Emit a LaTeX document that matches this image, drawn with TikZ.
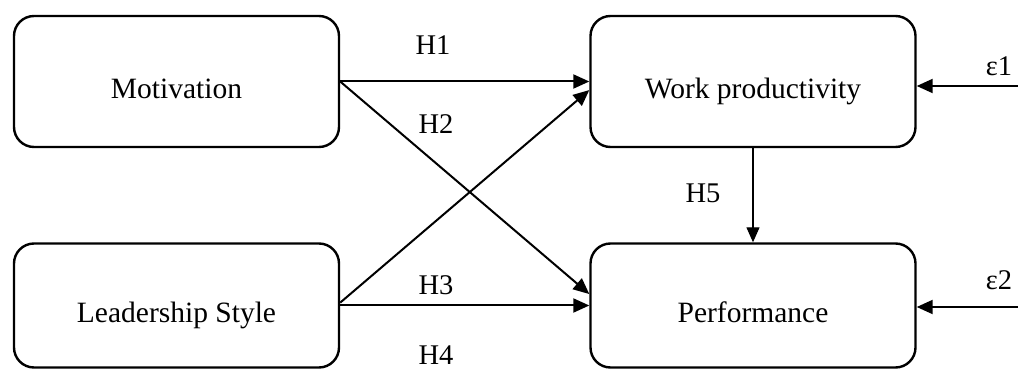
\documentclass[tikz,border=0pt]{standalone}
\usepackage{fontspec}
\setmainfont{Liberation Serif}
\usetikzlibrary{arrows.meta}
\begin{document}
\begin{tikzpicture}[x=1pt,y=-1pt,
                box/.style={rectangle,draw,rounded corners=20pt,line width=2.4pt,minimum width=325pt,minimum height=131pt,text height=35pt,text depth=0pt,font=\fontsize{29.5}{34}\selectfont},
                lbl/.style={font=\fontsize{28.5}{33}\selectfont},
                link/.style={line width=2pt,-{Triangle[length=16pt,width=14pt]}}]
                \useasboundingbox (0,0) rectangle (1018,371);
                \path (176.5,81.5) node[box] (mot) {Motivation};
                \path node[box,right of=mot,node distance=576.5pt] (wp) {Work productivity};
                \path node[box,minimum height=124pt,below of=mot,node distance=224pt] (lead) {Leadership Style};
                \path node[box,minimum height=124pt,right of=lead,node distance=576.5pt] (perf) {Performance};
                \coordinate (e1) at (1018,86);
                \coordinate (e2) at (1018,307);
                \draw[link] (mot.east) -- (wp.west);
                \draw[link] (mot.east) -- (perf.176);
                \draw[link] (lead.1) -- (wp.183);
                \draw[link] (lead.east) -- (perf.west);
                \draw[line width=1.2pt,-{Triangle[length=15pt,width=13pt]}] (wp.south) -- (perf.north);
                \draw[link] (e1) -- (e1 -| wp.east);
                \draw[link] (e2) -- (e2 -| perf.east);
                \path (433,45) node[lbl] (h1) {H1};
                \path (436,124) node[lbl] (h2) {H2};
                \path (436,285) node[lbl] (h3) {H3};
                \path (436,355) node[lbl] (h4) {H4};
                \path (703,193) node[lbl] (h5) {H5};
                \path (999,66) node[lbl] (eps1) {ε1};
                \path (999,280) node[lbl] (eps2) {ε2};
              \end{tikzpicture}
\end{document}
